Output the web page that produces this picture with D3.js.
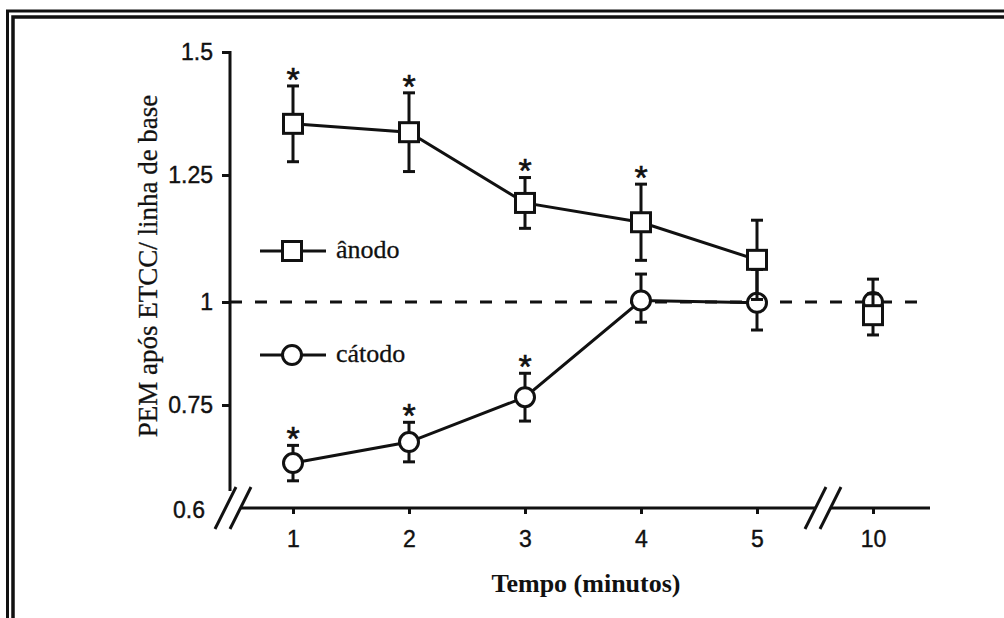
<!DOCTYPE html>
<html>
<head>
<meta charset="utf-8">
<script src="https://cdn.jsdelivr.net/npm/d3@7"></script>
<style>
body { margin:0; background:#fff; }
svg { display:block; }
</style>
</head>
<body>
<svg id="chart" width="1004" height="618"></svg>
<script>
// valores
var minutos = ["1","2","3","4","5","10"];
var anodoMedia = [1.354, 1.337, 1.195, 1.157, 1.083, 0.968];
var anodoErro = [0.077, 0.080, 0.050, 0.075, 0.078, 0.048];
var anodoSig = [true, true, true, true, false, false];
var catodoMedia = [0.609, 0.660, 0.769, 1.003, 0.998, 1.0];
var catodoErro = [0.043, 0.048, 0.058, 0.052, 0.066, 0.045];
var catodoSig = [true, true, true, false, false, false];
var yTicks = [0.75, 1, 1.25, 1.5];
var yTickLabels = ["0.75", "1", "1.25", "1.5"];
var yBaseLabel = "0.6";
var linhaBase = 1;

var svg = d3.select("#chart");
var ink = "#111";
var sans = "Liberation Sans, Arial, sans-serif";
var serif = "Liberation Serif, Times New Roman, serif";
var sw = 3;

// moldura dupla (cortada a direita e em baixo)
svg.append("path").attr("d", "M7.5,640V11H1010")
    .attr("fill", "none").attr("stroke", ink).attr("stroke-width", 3);
svg.append("path").attr("d", "M13,640V17H1010")
    .attr("fill", "none").attr("stroke", ink).attr("stroke-width", 3.5);

var x = d3.scalePoint().domain(minutos).range([293, 873]);
// eixo original nao e perfeitamente linear
var y = d3.scaleLinear().domain([0.75, 1, 1.25, 1.5]).range([405, 302, 175, 52]);
var axisY = 508, yAxisX = 230;

// eixo y
var gy = svg.append("g").attr("transform", "translate(" + yAxisX + ",0)");
gy.call(d3.axisLeft(y).tickValues(yTicks)
        .tickFormat(function (d, i) { return yTickLabels[i]; })
        .tickSize(8).tickPadding(9));
gy.select(".domain").remove();
gy.selectAll(".tick line").attr("stroke", ink).attr("stroke-width", sw);
gy.selectAll(".tick text").attr("fill", ink).attr("stroke", ink).attr("stroke-width", 0.4)
    .style("font-family", sans).style("font-size", "23px");
gy.append("line").attr("x1", 0).attr("x2", 0).attr("y1", y(1.5) - 1).attr("y2", 491)
    .attr("stroke", ink).attr("stroke-width", sw);
svg.append("text").attr("x", 205).attr("y", axisY + 2).attr("dy", "0.35em")
    .attr("text-anchor", "end").attr("fill", ink).attr("stroke", ink).attr("stroke-width", 0.4)
    .style("font-family", sans).style("font-size", "23px")
    .text(yBaseLabel);

// eixo x
var gx = svg.append("g").attr("transform", "translate(0," + axisY + ")");
gx.call(d3.axisBottom(x).tickSize(6).tickPadding(17));
gx.select(".domain").remove();
gx.selectAll(".tick line").attr("stroke", ink).attr("stroke-width", sw);
gx.selectAll(".tick text").attr("fill", ink).attr("stroke", ink).attr("stroke-width", 0.4)
    .style("font-family", sans).style("font-size", "23px");
gx.append("line").attr("x1", 241).attr("x2", 816).attr("y1", 0).attr("y2", 0)
    .attr("stroke", ink).attr("stroke-width", sw);
gx.append("line").attr("x1", 831).attr("x2", 930).attr("y1", 0).attr("y2", 0)
    .attr("stroke", ink).attr("stroke-width", sw);

// marcas de quebra
function quebra(cx) {
    [-7.5, 7.5].forEach(function (o) {
        svg.append("line")
            .attr("x1", cx + o - 10.5).attr("y1", axisY + 21)
            .attr("x2", cx + o + 10.5).attr("y2", axisY - 21)
            .attr("stroke", ink).attr("stroke-width", sw);
    });
}
quebra(233);
quebra(823);

// linha de base tracejada
svg.append("line").attr("x1", yAxisX).attr("x2", 930)
    .attr("y1", y(linhaBase)).attr("y2", y(linhaBase))
    .attr("stroke", ink).attr("stroke-width", sw).attr("stroke-dasharray", "12,13");

function serie(media, erro, sig, forma) {
    var pts = media.map(function (m, i) {
        return { x: x(minutos[i]), m: m, e: erro[i], s: sig[i] };
    });
    var g = svg.append("g");
    g.append("path").datum(pts.slice(0, 5))
        .attr("d", d3.line().x(function (d) { return d.x; }).y(function (d) { return y(d.m); }))
        .attr("fill", "none").attr("stroke", ink).attr("stroke-width", sw);
    pts.forEach(function (d) {
        var top = y(d.m + d.e), bot = y(d.m - d.e);
        g.append("line").attr("x1", d.x).attr("x2", d.x).attr("y1", top).attr("y2", bot)
            .attr("stroke", ink).attr("stroke-width", sw);
        [top, bot].forEach(function (yy) {
            g.append("line").attr("x1", d.x - 6).attr("x2", d.x + 6).attr("y1", yy).attr("y2", yy)
                .attr("stroke", ink).attr("stroke-width", sw);
        });
        if (d.s) {
            g.append("text").attr("x", d.x).attr("y", top - 15).attr("dy", "0.58em")
                .attr("text-anchor", "middle").attr("fill", ink).attr("stroke", ink).attr("stroke-width", 0.6)
                .style("font-family", sans).style("font-size", "34px")
                .text("*");
        }
    });
    pts.forEach(function (d) { forma(g, d.x, y(d.m)); });
}
function quadrado(g, cx, cy) {
    g.append("rect").attr("x", cx - 9.5).attr("y", cy - 9.5).attr("width", 19).attr("height", 19)
        .attr("fill", "#fff").attr("stroke", ink).attr("stroke-width", sw);
}
function circulo(g, cx, cy) {
    g.append("circle").attr("cx", cx).attr("cy", cy).attr("r", 9.5)
        .attr("fill", "#fff").attr("stroke", ink).attr("stroke-width", sw);
}
serie(catodoMedia, catodoErro, catodoSig, circulo);
serie(anodoMedia, anodoErro, anodoSig, quadrado);

// legenda
[{ y: 251, t: "ânodo", f: quadrado }, { y: 355, t: "cátodo", f: circulo }].forEach(function (l) {
    svg.append("line").attr("x1", 260).attr("x2", 326).attr("y1", l.y).attr("y2", l.y)
        .attr("stroke", ink).attr("stroke-width", sw);
    l.f(svg, 292, l.y);
    svg.append("text").attr("x", 336).attr("y", l.y + 7).attr("fill", ink)
        .attr("stroke", ink).attr("stroke-width", 0.3)
        .style("font-family", serif).style("font-size", "26px").text(l.t);
});

// titulos
svg.append("text").attr("transform", "translate(157,266) rotate(-90)")
    .attr("text-anchor", "middle").attr("fill", ink).attr("stroke", ink).attr("stroke-width", 0.3)
    .style("font-family", serif).style("font-size", "27px")
    .text("PEM após ETCC/ linha de base");
svg.append("text").attr("x", 586).attr("y", 592)
    .attr("text-anchor", "middle").attr("fill", ink)
    .style("font-family", serif).style("font-size", "26px").style("font-weight", "bold")
    .text("Tempo (minutos)");
</script>
</body>
</html>
